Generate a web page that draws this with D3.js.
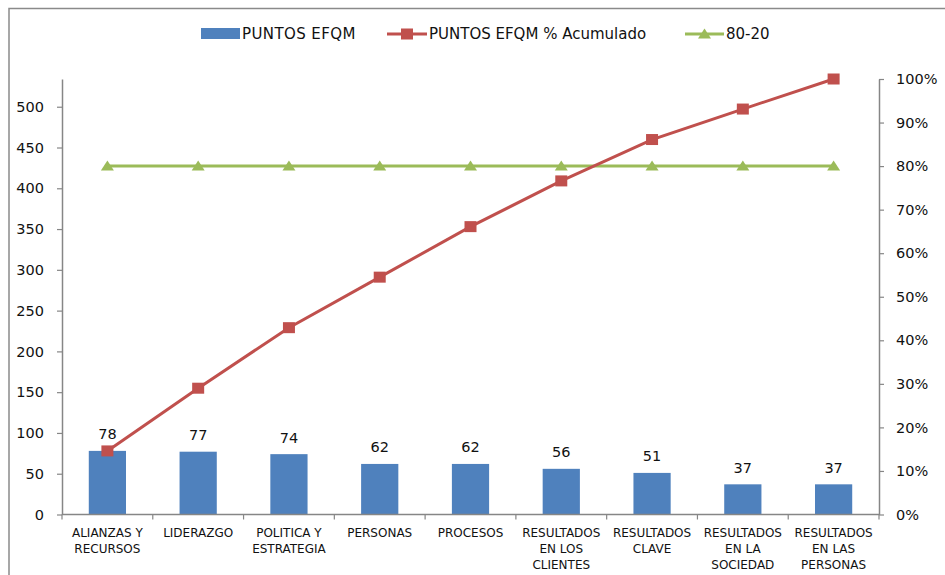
<!DOCTYPE html>
<html>
<head>
<meta charset="utf-8">
<script src="https://cdn.jsdelivr.net/npm/d3@7"></script>
<style>
  html, body { margin: 0; padding: 0; background: #fff; }
  svg { display: block; }
  text { font-family: "DejaVu Sans", Verdana, sans-serif; fill: #111; }
</style>
</head>
<body>
<svg id="chart" width="945" height="575"></svg>
<script>
// ---- data ----
const categories = [
  ["ALIANZAS Y", "RECURSOS"],
  ["LIDERAZGO"],
  ["POLITICA Y", "ESTRATEGIA"],
  ["PERSONAS"],
  ["PROCESOS"],
  ["RESULTADOS", "EN LOS", "CLIENTES"],
  ["RESULTADOS", "CLAVE"],
  ["RESULTADOS", "EN LA", "SOCIEDAD"],
  ["RESULTADOS", "EN LAS", "PERSONAS"]
];
const puntos = [78, 77, 74, 62, 62, 56, 51, 37, 37];
const acumulado = [14.6, 29.0, 42.9, 54.5, 66.1, 76.6, 86.1, 93.1, 100];
const linea8020 = [80, 80, 80, 80, 80, 80, 80, 80, 80];
const leftTicks = [0, 50, 100, 150, 200, 250, 300, 350, 400, 450, 500];
const rightTicks = [0, 10, 20, 30, 40, 50, 60, 70, 80, 90, 100];
const seriesNames = ["PUNTOS EFQM", "PUNTOS EFQM % Acumulado", "80-20"];
const leftMax = 534;

// ---- styles ----
const C_BAR = "#4F81BD", C_RED = "#C0504D", C_GREEN = "#9BBB59", C_AXIS = "#868686";

const svg = d3.select("#chart");

// frame
svg.append("rect")
  .attr("x", 9).attr("y", 8.5).attr("width", 960).attr("height", 600)
  .attr("fill", "none").attr("stroke", "#8a8a8a").attr("stroke-width", 1.5);

const plot = { left: 62, right: 879, top: 79, bottom: 514.5 };

const x = d3.scaleBand().domain(d3.range(categories.length))
  .range([plot.left, plot.right]).padding(0);
const yL = d3.scaleLinear().domain([0, leftMax]).range([plot.bottom, plot.top]);
const yR = d3.scaleLinear().domain([0, 100]).range([plot.bottom, plot.top]);

// bars
const barW = x.bandwidth() * 0.41;
svg.append("g").selectAll("rect").data(puntos).join("rect")
  .attr("x", (d, i) => x(i) + x.bandwidth() / 2 - barW / 2)
  .attr("y", d => yL(d))
  .attr("width", barW)
  .attr("height", d => yL(0) - yL(d))
  .attr("fill", C_BAR);

// bar labels
svg.append("g").selectAll("text").data(puntos).join("text")
  .attr("x", (d, i) => x(i) + x.bandwidth() / 2)
  .attr("y", d => yL(d) - 11.5)
  .attr("text-anchor", "middle")
  .style("font-size", "14.5px")
  .text(d => d);

// left axis
const axL = svg.append("g").attr("transform", `translate(${plot.left},0)`)
  .call(d3.axisLeft(yL).tickValues(leftTicks).tickSize(5).tickSizeOuter(0).tickPadding(5));
axL.select(".domain").attr("stroke", C_AXIS).attr("stroke-width", 1.5);
axL.selectAll(".tick line").attr("stroke", C_AXIS).attr("stroke-width", 1.2);
axL.selectAll(".tick text").style("font-size", "14.5px").style("font-family", "DejaVu Sans").attr("fill", "#111").attr("x", -18);

// right axis
const axR = svg.append("g").attr("transform", `translate(${plot.right},0)`)
  .call(d3.axisRight(yR).tickValues(rightTicks).tickSize(5).tickSizeOuter(0).tickFormat(d => d + "%"));
axR.select(".domain").attr("stroke", C_AXIS).attr("stroke-width", 1.5);
axR.selectAll(".tick line").attr("stroke", C_AXIS).attr("stroke-width", 1.2);
axR.selectAll(".tick text").style("font-size", "14.5px").style("font-family", "DejaVu Sans").attr("fill", "#111").attr("x", 17);

// x axis
const gx = svg.append("g");
gx.append("line")
  .attr("x1", plot.left).attr("x2", plot.right)
  .attr("y1", plot.bottom).attr("y2", plot.bottom)
  .attr("stroke", C_AXIS).attr("stroke-width", 1.5);
gx.selectAll("line.tk").data(d3.range(categories.length + 1)).join("line")
  .attr("class", "tk")
  .attr("x1", i => plot.left + i * x.step()).attr("x2", i => plot.left + i * x.step())
  .attr("y1", plot.bottom).attr("y2", plot.bottom + 5)
  .attr("stroke", C_AXIS).attr("stroke-width", 1.2);
const lbl = gx.selectAll("text").data(categories).join("text")
  .attr("text-anchor", "middle")
  .style("font-size", "12px");
lbl.each(function(lines, i) {
  const t = d3.select(this);
  lines.forEach((ln, k) => {
    t.append("tspan")
      .attr("x", x(i) + x.bandwidth() / 2)
      .attr("y", 536.5 + k * 16)
      .text(ln);
  });
});

// lines
const cx = i => x(i) + x.bandwidth() / 2;
const lineGen = d3.line().x((d, i) => cx(i)).y(d => yR(d));

svg.append("path").datum(linea8020)
  .attr("d", lineGen).attr("fill", "none")
  .attr("stroke", C_GREEN).attr("stroke-width", 3);
svg.append("g").selectAll("path").data(linea8020).join("path")
  .attr("transform", (d, i) => `translate(${cx(i)},${yR(d)})`)
  .attr("d", "M0,-5.5L6.5,4.5L-6.5,4.5Z")
  .attr("fill", C_GREEN);

svg.append("path").datum(acumulado)
  .attr("d", lineGen).attr("fill", "none")
  .attr("stroke", C_RED).attr("stroke-width", 3);
svg.append("g").selectAll("rect").data(acumulado).join("rect")
  .attr("x", (d, i) => cx(i) - 6).attr("y", d => yR(d) - 5.5)
  .attr("width", 12).attr("height", 11)
  .attr("fill", C_RED);

// legend
const leg = svg.append("g");
const legY = 34;
// bar item
leg.append("rect").attr("x", 201).attr("y", legY - 6).attr("width", 39).attr("height", 11).attr("fill", C_BAR);
leg.append("text").attr("x", 242).attr("y", legY).attr("dy", "0.36em")
  .style("font-size", "15px").style("letter-spacing", "0.4px").text(seriesNames[0]);
// red item
leg.append("line").attr("x1", 387).attr("x2", 427).attr("y1", legY).attr("y2", legY)
  .attr("stroke", C_RED).attr("stroke-width", 3);
leg.append("rect").attr("x", 401).attr("y", legY - 5.5).attr("width", 12).attr("height", 11).attr("fill", C_RED);
leg.append("text").attr("x", 429).attr("y", legY).attr("dy", "0.36em")
  .style("font-size", "15px").text(seriesNames[1]);
// green item
leg.append("line").attr("x1", 685).attr("x2", 724).attr("y1", legY).attr("y2", legY)
  .attr("stroke", C_GREEN).attr("stroke-width", 3);
leg.append("path").attr("transform", `translate(704.5,${legY})`)
  .attr("d", "M0,-5.5L6.5,4.5L-6.5,4.5Z").attr("fill", C_GREEN);
leg.append("text").attr("x", 726).attr("y", legY).attr("dy", "0.36em")
  .style("font-size", "15px").text(seriesNames[2]);
</script>
</body>
</html>
